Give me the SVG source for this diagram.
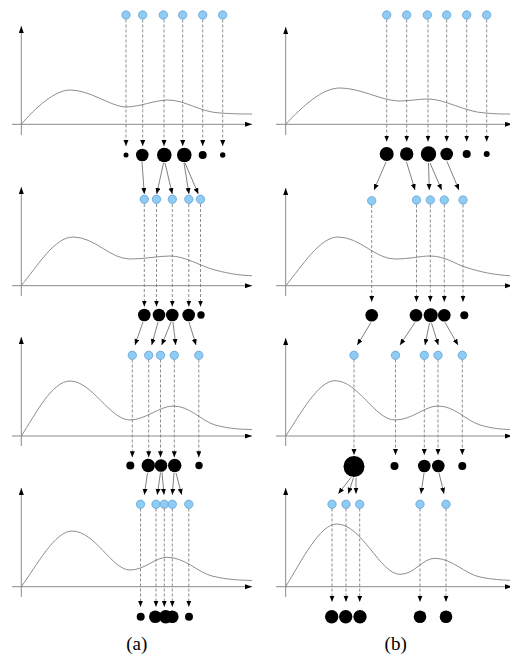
<svg xmlns="http://www.w3.org/2000/svg" width="510" height="657" viewBox="0 0 510 657">
<style>
.ax{stroke:#8a8a8a;stroke-width:1;fill:none}
.cv{stroke:#808080;stroke-width:0.9;fill:none}
.d{stroke:#707070;stroke-width:0.8;stroke-dasharray:3,2;fill:none;marker-end:url(#ah)}
.s{stroke:#606060;stroke-width:0.8;fill:none;marker-end:url(#ah)}
.b{fill:#8ecbf5;stroke:#4d8fc4;stroke-width:0.6}
.k{fill:#000}
.lbl{font-family:"Liberation Serif",serif;font-size:19px;fill:#000;text-anchor:middle}
</style>
<defs>
<marker id="ah" markerUnits="userSpaceOnUse" markerWidth="7" markerHeight="6" refX="6" refY="2.5" orient="auto"><path d="M0,0 L6,2.5 L0,5 z" fill="#000"/></marker>
<marker id="axh" markerUnits="userSpaceOnUse" markerWidth="8" markerHeight="6" refX="7" refY="2.5" orient="auto"><path d="M0,0 L7,2.5 L0,5 z" fill="#000"/></marker>
</defs>

<g id="axes">
<path class="ax" marker-end="url(#axh)" d="M21.3,135 V26"/>
<path class="ax" marker-end="url(#axh)" d="M12,124.3 H252"/>
<path class="ax" marker-end="url(#axh)" d="M285.7,135 V27"/>
<path class="ax" marker-end="url(#axh)" d="M276,124.3 H512"/>
<path class="ax" marker-end="url(#axh)" d="M21.3,296 V187"/>
<path class="ax" marker-end="url(#axh)" d="M12,285.7 H252"/>
<path class="ax" marker-end="url(#axh)" d="M285.7,296 V188"/>
<path class="ax" marker-end="url(#axh)" d="M276,285.7 H512"/>
<path class="ax" marker-end="url(#axh)" d="M21.3,446 V337"/>
<path class="ax" marker-end="url(#axh)" d="M12,436 H252"/>
<path class="ax" marker-end="url(#axh)" d="M285.7,446 V338"/>
<path class="ax" marker-end="url(#axh)" d="M276,436 H512"/>
<path class="ax" marker-end="url(#axh)" d="M21.3,597 V488"/>
<path class="ax" marker-end="url(#axh)" d="M12,586.7 H252"/>
<path class="ax" marker-end="url(#axh)" d="M285.7,597 V488"/>
<path class="ax" marker-end="url(#axh)" d="M276,586.7 H512"/>
</g>

<g id="curves">
<path class="cv" d="M21.3,124.3 C35,108 55,90 70,90 C90,90 110,106 125,107 C140,107 155,100 168,100 C185,100 200,112 220,113 C235,114 245,114 252,114"/>
<path class="cv" d="M285.7,124.3 C303,106 322,88 340,88 C360,88 380,100 398,101 C410,101 418,99 428,99 C445,99 465,112 485,113 C495,114 505,114 510,114"/>
<path class="cv" d="M21.3,285.7 C38,265 55,237 73,237 C95,237 110,259 130,259 C145,259 158,256 170,256 C185,256 200,266 215,270 C230,274 242,275.5 252,275.7"/>
<path class="cv" d="M285.7,285.7 C303,265 320,237 338,237 C360,237 375,259 395,259 C410,259 420,256 430,256 C445,256 455,264 465,267 C480,272 495,275 510,275.7"/>
<path class="cv" d="M21.3,436 C35,415 52,381 70,381 C92,381 110,420 130,420 C145,420 160,406 173,406 C190,406 200,420 215,425 C230,429 242,429.3 252,429.5"/>
<path class="cv" d="M285.7,436 C300,415 318,380.7 335,380.7 C358,380.7 375,420 395,420 C412,420 425,406 437.7,406 C455,406 465,420 480,425 C492,428.5 502,429.3 510,429.5"/>
<path class="cv" d="M21.3,586.7 C37,565 55,531 72,531 C95,531 112,570 130,570 C145,570 155,557.3 167,557.3 C185,557.3 197,572 212,576 C228,580 240,580 252,580.5"/>
<path class="cv" d="M285.7,586.7 C302,560 320,524 336.7,524 C362,524 380,574.3 400,574.3 C415,574.3 422,558.3 435,558.3 C452,558.3 465,574 480,577 C492,579.5 502,580 510,580.3"/>
</g>

<g id="connectors">
<path class="d" d="M126,19.5 V146"/>
<path class="d" d="M142.7,19.5 V146"/>
<path class="d" d="M164,19.5 V146"/>
<path class="d" d="M182.7,19.5 V146"/>
<path class="d" d="M202.7,19.5 V146"/>
<path class="d" d="M222.7,19.5 V146"/>
<path class="d" d="M386.7,19.5 V141.5"/>
<path class="d" d="M406.7,19.5 V141.5"/>
<path class="d" d="M428,19.5 V141.5"/>
<path class="d" d="M446.7,19.5 V141.5"/>
<path class="d" d="M466.7,19.5 V141.5"/>
<path class="d" d="M486.7,19.5 V141.5"/>
<path class="s" d="M142,162 L144.3,194"/>
<path class="s" d="M163.5,163 L156.7,194"/>
<path class="s" d="M165,163 L172.3,194"/>
<path class="s" d="M184,163 L189,194"/>
<path class="s" d="M185,163 L198.3,194"/>
<path class="s" d="M386,162 L374,190"/>
<path class="s" d="M406.5,162 L415,190"/>
<path class="s" d="M428.5,163 L429.3,190"/>
<path class="s" d="M430,163 L441.7,190"/>
<path class="s" d="M447,161.5 L459,190"/>
<path class="d" d="M144.3,204 V306.5"/>
<path class="d" d="M156.5,204 V306.5"/>
<path class="d" d="M172.3,204 V306.5"/>
<path class="d" d="M188.8,204 V306.5"/>
<path class="d" d="M200.5,204 V306.5"/>
<path class="d" d="M371.7,205 V301.7"/>
<path class="d" d="M416.5,204.5 V301.7"/>
<path class="d" d="M430.3,204.5 V301.7"/>
<path class="d" d="M444.3,204.5 V301.7"/>
<path class="d" d="M463,204.5 V301.7"/>
<path class="s" d="M143,322 L135,345"/>
<path class="s" d="M158,322 L151.7,345"/>
<path class="s" d="M171,322 L161.7,345"/>
<path class="s" d="M173,322 L175.7,345"/>
<path class="s" d="M189,322 L196,345"/>
<path class="s" d="M371,322.5 L357.3,345"/>
<path class="s" d="M415,322.5 L400,345"/>
<path class="s" d="M429.5,323 L425,345"/>
<path class="s" d="M431.5,323 L438.3,345"/>
<path class="s" d="M445,322.5 L458,345"/>
<path class="d" d="M132.3,359.5 V457.3"/>
<path class="d" d="M148.7,359.5 V457.3"/>
<path class="d" d="M160.5,359.5 V457.3"/>
<path class="d" d="M174.3,359.5 V457.3"/>
<path class="d" d="M198.8,359.5 V457.3"/>
<path class="d" d="M354,359.5 V455"/>
<path class="d" d="M395.5,359.5 V455"/>
<path class="d" d="M424.3,359.5 V455"/>
<path class="d" d="M438,359.5 V455"/>
<path class="d" d="M462.3,359.5 V455"/>
<path class="s" d="M147.5,473 L144.3,494.7"/>
<path class="s" d="M160.5,472.5 L157.3,494.7"/>
<path class="s" d="M162,472.5 L164,494.7"/>
<path class="s" d="M174,473 L172.3,494.7"/>
<path class="s" d="M176,473 L181.7,494.7"/>
<path class="s" d="M351,477.5 L338.3,493.7"/>
<path class="s" d="M353.5,477.5 L348.3,493.7"/>
<path class="s" d="M356,477.5 L356,493.7"/>
<path class="s" d="M424,473 L421,493.7"/>
<path class="s" d="M439,473 L444,493.7"/>
<path class="d" d="M140.5,508.5 V606.7"/>
<path class="d" d="M156,508.5 V606.7"/>
<path class="d" d="M164.3,508.5 V606.7"/>
<path class="d" d="M172.3,508.5 V606.7"/>
<path class="d" d="M188.8,508.5 V606.7"/>
<path class="d" d="M332,508.5 V601.7"/>
<path class="d" d="M346,508.5 V601.7"/>
<path class="d" d="M359.7,508.5 V601.7"/>
<path class="d" d="M420,508.5 V601.7"/>
<path class="d" d="M446,508.5 V601.7"/>
</g>

<g id="a0-1"><circle class="b" cx="126" cy="15" r="4.2"/></g>
<g id="a0-2"><circle class="b" cx="142.7" cy="15" r="4.2"/></g>
<g id="a0-3"><circle class="b" cx="163.3" cy="15" r="4.2"/></g>
<g id="a0-4"><circle class="b" cx="182.7" cy="15" r="4.2"/></g>
<g id="a0-5"><circle class="b" cx="202.7" cy="15" r="4.2"/></g>
<g id="a0-6"><circle class="b" cx="222.7" cy="15" r="4.2"/></g>
<g id="b0-1"><circle class="b" cx="386.7" cy="15" r="4.2"/></g>
<g id="b0-2"><circle class="b" cx="406.7" cy="15" r="4.2"/></g>
<g id="b0-3"><circle class="b" cx="427.3" cy="15" r="4.2"/></g>
<g id="b0-4"><circle class="b" cx="446.7" cy="15" r="4.2"/></g>
<g id="b0-5"><circle class="b" cx="466.7" cy="15" r="4.2"/></g>
<g id="b0-6"><circle class="b" cx="486.7" cy="15" r="4.2"/></g>

<g id="a1-1"><circle class="k" cx="126" cy="155" r="2.5"/></g>
<g id="a1-2"><circle class="k" cx="142.3" cy="155" r="6.3"/></g>
<g id="a1-3"><circle class="k" cx="164.3" cy="155" r="7.3"/></g>
<g id="a1-4"><circle class="k" cx="184.3" cy="155" r="7.3"/></g>
<g id="a1-5"><circle class="k" cx="202.7" cy="155" r="4"/></g>
<g id="a1-6"><circle class="k" cx="222.7" cy="155" r="2.7"/></g>
<g id="b1-1"><circle class="k" cx="386.7" cy="154" r="7"/></g>
<g id="b1-2"><circle class="k" cx="406.7" cy="154" r="6.7"/></g>
<g id="b1-3"><circle class="k" cx="428.5" cy="154" r="7.7"/></g>
<g id="b1-4"><circle class="k" cx="446.7" cy="154" r="6.3"/></g>
<g id="b1-5"><circle class="k" cx="466.7" cy="154" r="4"/></g>
<g id="b1-6"><circle class="k" cx="486.7" cy="154" r="3"/></g>

<g id="a2-1"><circle class="b" cx="144.3" cy="199.3" r="4.2"/></g>
<g id="a2-2"><circle class="b" cx="156.5" cy="199.3" r="4.2"/></g>
<g id="a2-3"><circle class="b" cx="172.3" cy="199.3" r="4.2"/></g>
<g id="a2-4"><circle class="b" cx="188.8" cy="199.3" r="4.2"/></g>
<g id="a2-5"><circle class="b" cx="200.5" cy="199.3" r="4.2"/></g>
<g id="b2-1"><circle class="b" cx="371.7" cy="200.7" r="4.2"/></g>
<g id="b2-2"><circle class="b" cx="416.5" cy="200" r="4.2"/></g>
<g id="b2-3"><circle class="b" cx="430.3" cy="200" r="4.2"/></g>
<g id="b2-4"><circle class="b" cx="444.3" cy="200" r="4.2"/></g>
<g id="b2-5"><circle class="b" cx="463" cy="200" r="4.2"/></g>

<g id="a3-1"><circle class="k" cx="144.3" cy="315" r="6.3"/></g>
<g id="a3-2"><circle class="k" cx="159" cy="315" r="6.3"/></g>
<g id="a3-3"><circle class="k" cx="172.3" cy="315" r="6.3"/></g>
<g id="a3-4"><circle class="k" cx="188.7" cy="315" r="6.3"/></g>
<g id="a3-5"><circle class="k" cx="201" cy="315" r="3.7"/></g>
<g id="b3-1"><circle class="k" cx="371.7" cy="315.3" r="6.3"/></g>
<g id="b3-2"><circle class="k" cx="416" cy="315.3" r="6.3"/></g>
<g id="b3-3"><circle class="k" cx="430.7" cy="315.3" r="7"/></g>
<g id="b3-4"><circle class="k" cx="444.3" cy="315.3" r="6.3"/></g>
<g id="b3-5"><circle class="k" cx="464.3" cy="315.3" r="4"/></g>

<g id="a4-1"><circle class="b" cx="132.3" cy="355.3" r="4.2"/></g>
<g id="a4-2"><circle class="b" cx="148.7" cy="355.3" r="4.2"/></g>
<g id="a4-3"><circle class="b" cx="160.5" cy="355.3" r="4.2"/></g>
<g id="a4-4"><circle class="b" cx="174.3" cy="355.3" r="4.2"/></g>
<g id="a4-5"><circle class="b" cx="198.8" cy="355.3" r="4.2"/></g>
<g id="b4-1"><circle class="b" cx="354" cy="355.3" r="4.2"/></g>
<g id="b4-2"><circle class="b" cx="395.5" cy="355.3" r="4.2"/></g>
<g id="b4-3"><circle class="b" cx="424.3" cy="355.3" r="4.2"/></g>
<g id="b4-4"><circle class="b" cx="438" cy="355.3" r="4.2"/></g>
<g id="b4-5"><circle class="b" cx="462.3" cy="355.3" r="4.2"/></g>

<g id="a5-1"><circle class="k" cx="130.3" cy="465.5" r="4"/></g>
<g id="a5-2"><circle class="k" cx="148.3" cy="465.5" r="6.7"/></g>
<g id="a5-3"><circle class="k" cx="161" cy="465.5" r="6.3"/></g>
<g id="a5-4"><circle class="k" cx="174.7" cy="465.5" r="6.7"/></g>
<g id="a5-5"><circle class="k" cx="199" cy="465.5" r="3.7"/></g>
<g id="b5-1"><circle class="k" cx="354" cy="466.5" r="10.5"/></g>
<g id="b5-2"><circle class="k" cx="394.5" cy="466" r="4"/></g>
<g id="b5-3"><circle class="k" cx="424.3" cy="466" r="6.3"/></g>
<g id="b5-4"><circle class="k" cx="438.3" cy="466" r="6.3"/></g>
<g id="b5-5"><circle class="k" cx="462.3" cy="466" r="4"/></g>

<g id="a6-1"><circle class="b" cx="140.5" cy="504.3" r="4.2"/></g>
<g id="a6-2"><circle class="b" cx="156" cy="504.3" r="4.2"/></g>
<g id="a6-3"><circle class="b" cx="164.3" cy="504.3" r="4.2"/></g>
<g id="a6-4"><circle class="b" cx="172.3" cy="504.3" r="4.2"/></g>
<g id="a6-5"><circle class="b" cx="188.8" cy="504.3" r="4.2"/></g>
<g id="b6-1"><circle class="b" cx="332" cy="504.3" r="4.2"/></g>
<g id="b6-2"><circle class="b" cx="346" cy="504.3" r="4.2"/></g>
<g id="b6-3"><circle class="b" cx="359.7" cy="504.3" r="4.2"/></g>
<g id="b6-4"><circle class="b" cx="420" cy="504.3" r="4.2"/></g>
<g id="b6-5"><circle class="b" cx="446" cy="504.3" r="4.2"/></g>

<g id="a7-1"><circle class="k" cx="140.7" cy="616.7" r="4"/></g>
<g id="a7-2"><circle class="k" cx="155.3" cy="616.7" r="6.3"/></g>
<g id="a7-3"><circle class="k" cx="165.7" cy="616.7" r="6.7"/></g>
<g id="a7-4"><circle class="k" cx="172.3" cy="616.7" r="6.3"/></g>
<g id="a7-5"><circle class="k" cx="189" cy="616.7" r="4"/></g>
<g id="b7-1"><circle class="k" cx="331.7" cy="616.7" r="6.7"/></g>
<g id="b7-2"><circle class="k" cx="345.7" cy="616.7" r="6.7"/></g>
<g id="b7-3"><circle class="k" cx="360" cy="616.7" r="6.7"/></g>
<g id="b7-4"><circle class="k" cx="420" cy="616.7" r="6.3"/></g>
<g id="b7-5"><circle class="k" cx="446" cy="616.7" r="6.3"/></g>

<g id="labels">
<text class="lbl" x="136.7" y="650">(a)</text>
<text class="lbl" x="395.7" y="650">(b)</text>
</g>
</svg>
